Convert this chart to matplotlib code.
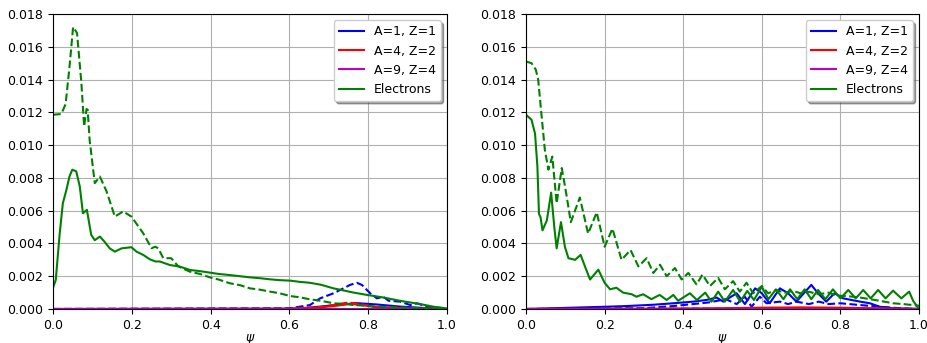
import matplotlib
matplotlib.use('Agg')
import matplotlib.pyplot as plt

# ---- left panel ----
psi_e_dash_l = [0.0, 0.021, 0.032, 0.042, 0.051, 0.061, 0.072, 0.079, 0.085, 0.088, 0.093, 0.106,
                0.119, 0.136, 0.157, 0.178, 0.199, 0.229, 0.25, 0.26, 0.267, 0.28, 0.30, 0.318,
                0.347, 0.373, 0.398, 0.42, 0.449, 0.475, 0.5, 0.525, 0.551, 0.575, 0.602, 0.625,
                0.652, 0.68, 0.712, 0.745, 0.763, 0.78, 0.81, 0.85, 0.88, 0.92, 0.96, 1.0]
e_dash_l = [0.01185, 0.0119, 0.0125, 0.0148, 0.0172, 0.01684, 0.0138, 0.01114, 0.0122, 0.01216, 0.0103, 0.00768,
            0.00808, 0.00717, 0.00564, 0.00595, 0.00564, 0.00462, 0.00371, 0.0038, 0.0037, 0.0031, 0.0031, 0.0026,
            0.00228, 0.00214, 0.00193, 0.00180, 0.00157, 0.00145, 0.00126, 0.00118, 0.00106, 0.00096, 0.00079, 0.00072,
            0.00059, 0.00050, 0.00035, 0.00030, 0.00024, 0.00022, 0.00016, 0.00012, 0.0001, 0.00006, 0.00003, 0.00001]

psi_e_sol_l = [0.0, 0.007, 0.017, 0.025, 0.034, 0.042, 0.049, 0.059, 0.068, 0.076, 0.086, 0.097,
               0.106, 0.119, 0.131, 0.144, 0.157, 0.174, 0.199, 0.212, 0.229, 0.246, 0.26, 0.271,
               0.297, 0.32, 0.348, 0.37, 0.398, 0.42, 0.449, 0.475, 0.5, 0.525, 0.551, 0.575,
               0.602, 0.625, 0.652, 0.68, 0.712, 0.74, 0.763, 0.797, 0.839, 0.881, 0.932, 0.966, 1.0]
e_sol_l = [0.0013, 0.00177, 0.0046, 0.00645, 0.00727, 0.0081, 0.0085, 0.0084, 0.00747, 0.00584, 0.00605, 0.00452,
           0.0042, 0.00442, 0.0041, 0.0037, 0.0035, 0.0037, 0.00377, 0.0035, 0.0033, 0.00303, 0.0029, 0.0029,
           0.00268, 0.0026, 0.00238, 0.00232, 0.00222, 0.00214, 0.00207, 0.00200, 0.00193, 0.00188, 0.00181, 0.00176,
           0.00173, 0.00166, 0.0016, 0.00148, 0.00126, 0.00112, 0.001, 0.00086, 0.0007, 0.0005, 0.0003, 0.00014, 0.00002]

psi_p_dash_l = [0.0, 0.6, 0.652, 0.678, 0.712, 0.737, 0.754, 0.771, 0.784, 0.805, 0.822, 0.838,
                0.852, 0.881, 0.907, 0.924, 0.949, 1.0]
p_dash_l = [0.0, 0.00004, 0.00024, 0.00065, 0.00096, 0.00126, 0.00147, 0.0016, 0.00147, 0.00096, 0.00065, 0.00075,
            0.0005, 0.00045, 0.00024, 0.00035, 0.00014, 0.00004]

psi_p_sol_l = [0.0, 0.6, 0.65, 0.7, 0.77, 0.82, 0.88, 0.95, 1.0]
p_sol_l = [0.0, 0.00002, 0.00008, 0.0002, 0.00036, 0.00028, 0.00015, 0.00005, 0.0]

psi_a_l = [0.0, 0.6, 0.68, 0.72, 0.75, 0.78, 0.82, 0.9, 1.0]
a_sol_l = [0.0, 0.00001, 0.0001, 0.0002, 0.0003, 0.00026, 0.00012, 0.00003, 0.0]
a_dash_l = [0.0, 0.00001, 0.00012, 0.00028, 0.0004, 0.0003, 0.0001, 0.00002, 0.0]

psi_b = [0.0, 1.0]
b_zero = [0.0, 0.0]

# ---- right panel ----
psi_e_dash_r = [0.0, 0.014, 0.025, 0.031, 0.04, 0.048, 0.057, 0.067, 0.078, 0.091, 0.102, 0.114,
                0.137, 0.158, 0.18, 0.2, 0.22, 0.243, 0.266, 0.286, 0.307, 0.324, 0.341, 0.358,
                0.379, 0.396, 0.413, 0.434, 0.449, 0.468, 0.489, 0.506, 0.527, 0.544, 0.561, 0.578,
                0.6, 0.616, 0.637, 0.658, 0.68, 0.70, 0.72, 0.745, 0.77, 0.79, 0.82, 0.85, 0.88,
                0.9, 0.934, 0.96, 1.0]
e_dash_r = [0.0151, 0.0150, 0.0146, 0.0140, 0.0117, 0.0097, 0.0085, 0.0093, 0.00645, 0.0086, 0.0071, 0.0053,
            0.0068, 0.0046, 0.0059, 0.0038, 0.0049, 0.003, 0.0036, 0.0026, 0.0031, 0.0022, 0.0027, 0.002,
            0.0025, 0.0018, 0.0022, 0.0015, 0.0021, 0.0014, 0.0019, 0.0012, 0.0017, 0.00106, 0.0016, 0.00096,
            0.0014, 0.00096, 0.00116, 0.001, 0.0011, 0.00095, 0.00105, 0.0009, 0.001, 0.00082, 0.00078, 0.0007, 0.00058,
            0.0005, 0.00035, 0.0003, 0.0002]

psi_e_sol_r = [0.0, 0.014, 0.023, 0.029, 0.033, 0.037, 0.042, 0.053, 0.064, 0.072, 0.078, 0.089,
               0.099, 0.108, 0.125, 0.139, 0.15, 0.163, 0.184, 0.2, 0.214, 0.23, 0.247, 0.269,
               0.281, 0.298, 0.319, 0.34, 0.358, 0.375, 0.387, 0.417, 0.435, 0.456, 0.472, 0.489,
               0.506, 0.527, 0.545, 0.563, 0.58, 0.6, 0.617, 0.636, 0.655, 0.672, 0.69, 0.709,
               0.726, 0.743, 0.762, 0.781, 0.8, 0.82, 0.839, 0.858, 0.877, 0.896, 0.915, 0.934,
               0.955, 0.975, 0.985, 1.0]
e_sol_r = [0.01185, 0.01155, 0.0107, 0.0087, 0.0058, 0.0056, 0.0048, 0.0054, 0.0071, 0.005, 0.0037, 0.0053,
           0.0038, 0.0031, 0.003, 0.0033, 0.0026, 0.0018, 0.0024, 0.0016, 0.0012, 0.0013, 0.001, 0.0009,
           0.00075, 0.0009, 0.0006, 0.00086, 0.00055, 0.00086, 0.0005, 0.00096, 0.00055, 0.001, 0.00045, 0.00106,
           0.00045, 0.00116, 0.00045, 0.0011, 0.00055, 0.00136, 0.0006, 0.0012, 0.0006, 0.0012, 0.0006, 0.0012,
           0.0006, 0.00116, 0.0006, 0.0012, 0.00065, 0.00116, 0.00065, 0.00116, 0.00065, 0.00116, 0.00065, 0.00112,
           0.00065, 0.00106, 0.0005, 0.0]

psi_p_sol_r = [0.0, 0.205, 0.256, 0.324, 0.375, 0.425, 0.459, 0.485, 0.502, 0.536, 0.557, 0.583,
               0.6, 0.62, 0.646, 0.667, 0.688, 0.726, 0.743, 0.764, 0.785, 0.807, 0.85, 0.875,
               0.9, 0.934, 1.0]
p_sol_r = [0.0, 0.00014, 0.00018, 0.00026, 0.00035, 0.00045, 0.00055, 0.0007, 0.00045, 0.00096, 0.0003, 0.00126,
           0.00096, 0.00035, 0.00126, 0.00096, 0.00045, 0.00147, 0.00096, 0.00045, 0.00096, 0.00065, 0.00045, 0.00035,
           0.00014, 0.00004, 0.0]

psi_p_dash_r = [0.0, 0.3, 0.375, 0.425, 0.465, 0.508, 0.536, 0.557, 0.574, 0.595, 0.612, 0.646,
                0.667, 0.688, 0.72, 0.745, 0.77, 0.8, 0.85, 0.9, 0.95, 1.0]
p_dash_r = [0.0, 0.00005, 0.00018, 0.0003, 0.0004, 0.0006, 0.0003, 0.00075, 0.00014, 0.00075, 0.00035, 0.00045,
            0.0003, 0.00045, 0.0003, 0.00045, 0.0003, 0.00035, 0.00024, 0.00014, 0.00005, 0.0]

psi_a_r = [0.0, 0.3, 0.5, 0.6, 0.7, 0.8, 0.9, 1.0]
a_sol_r = [0.0, 0.00002, 0.00005, 0.00008, 0.0001, 0.00008, 0.00004, 0.0]
a_dash_r = [0.0, 0.00001, 0.00003, 0.00005, 0.00006, 0.00005, 0.00002, 0.0]

labels = ['A=1, Z=1', 'A=4, Z=2', 'A=9, Z=4', 'Electrons']

plt.rcParams['font.size'] = 9

fig = plt.figure(figsize=(9.27, 3.43), dpi=100)
ax1 = fig.add_axes([53 / 927, 34 / 343, 394 / 927, 295 / 343])
ax2 = fig.add_axes([526 / 927, 34 / 343, 393 / 927, 295 / 343])

panels = [
    (ax1, (psi_p_sol_l, p_sol_l), (psi_p_dash_l, p_dash_l), (psi_a_l, a_sol_l), (psi_a_l, a_dash_l),
     (psi_e_sol_l, e_sol_l), (psi_e_dash_l, e_dash_l)),
    (ax2, (psi_p_sol_r, p_sol_r), (psi_p_dash_r, p_dash_r), (psi_a_r, a_sol_r), (psi_a_r, a_dash_r),
     (psi_e_sol_r, e_sol_r), (psi_e_dash_r, e_dash_r)),
]

lw = 1.5
for ax, ps, pd, asol, adash, es, ed in panels:
    ax.plot(*ps, 'b', lw=lw, label=labels[0])
    ax.plot(*pd, 'b--', lw=lw)
    ax.plot(*asol, 'r', lw=lw, label=labels[1])
    ax.plot(*adash, 'r--', lw=lw)
    ax.plot(psi_b, b_zero, 'm', lw=lw, label=labels[2])
    ax.plot(psi_b, b_zero, 'm--', lw=lw)
    ax.plot(*es, 'g', lw=lw, label=labels[3])
    ax.plot(*ed, 'g--', lw=lw)
    ax.set_xlim(0, 1)
    ax.set_ylim(0, 0.018)
    ax.set_yticks([i * 0.002 for i in range(10)])
    ax.set_yticklabels(['%.3f' % (i * 0.002) for i in range(10)])
    ax.set_xlabel(r'$\psi$', labelpad=0)
    ax.grid(True)
    ax.legend(loc='upper right', shadow=True)

fig.savefig('out.png', dpi=100)
